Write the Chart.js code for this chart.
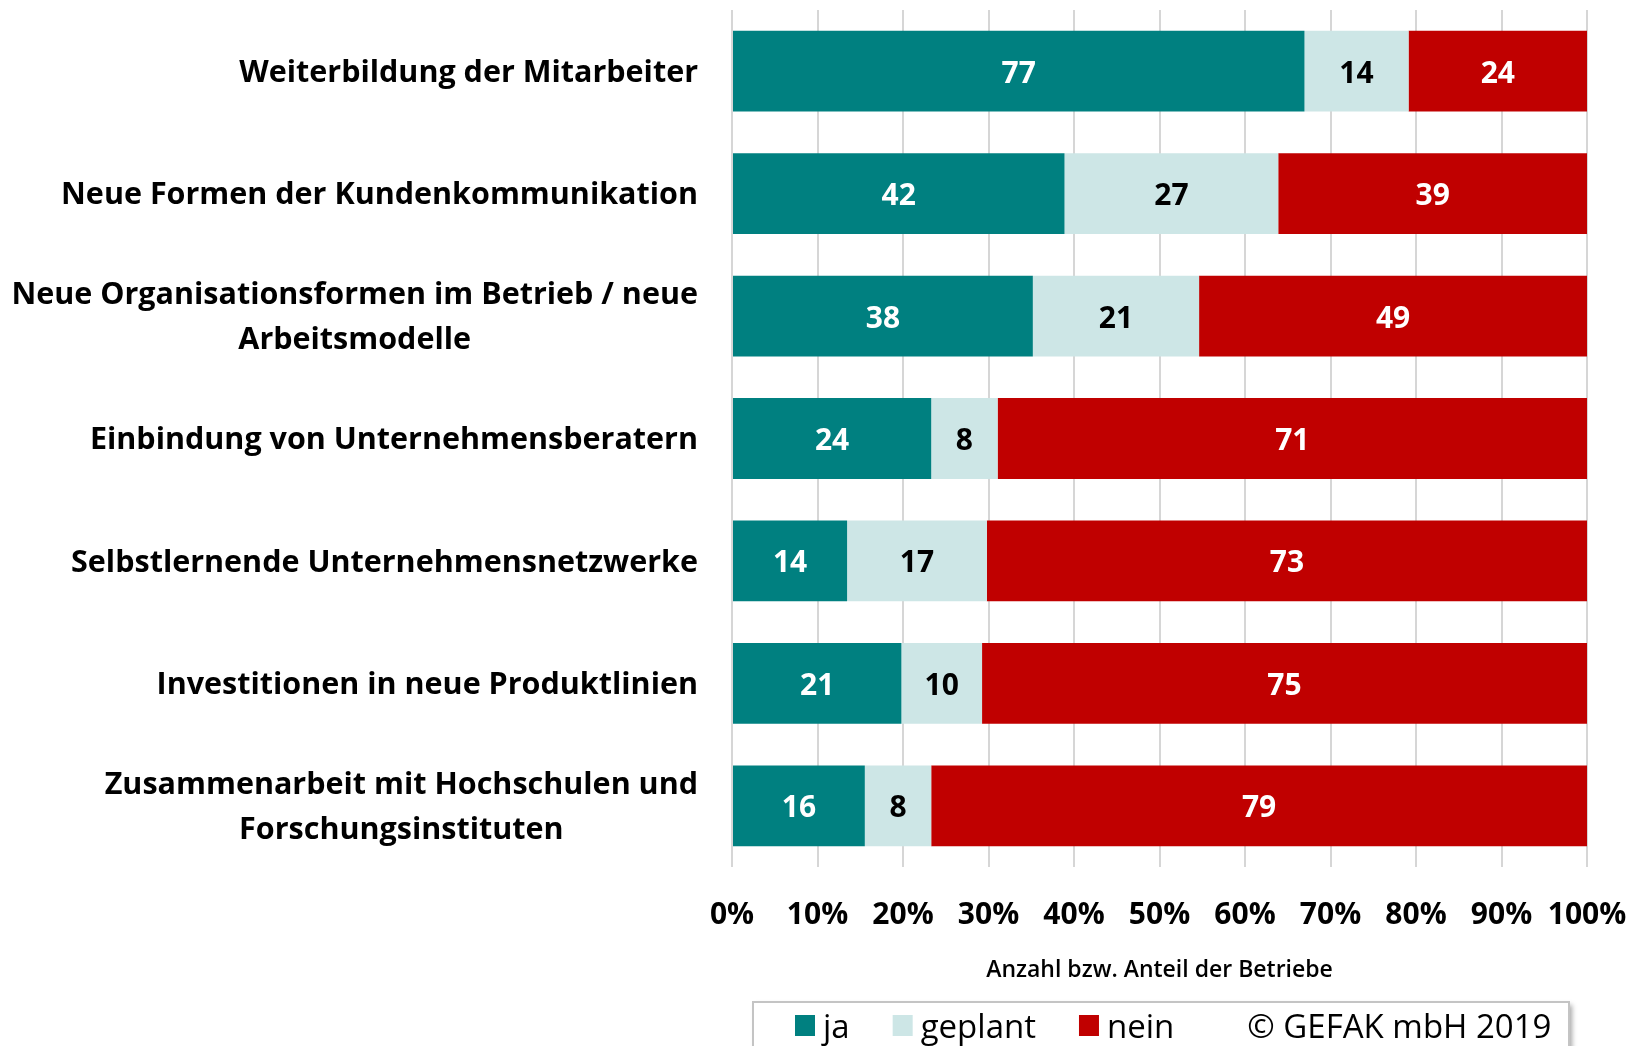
<!DOCTYPE html>
<html>
<head>
<meta charset="utf-8">
<script src="https://cdn.jsdelivr.net/npm/chart.js@4.4.1/dist/chart.umd.min.js"></script>
<style>
  html, body { margin: 0; padding: 0; background: #ffffff; }
  canvas { display: block; }
</style>
</head>
<body>
<canvas id="c" width="1629" height="1046"></canvas>
<script>
// ---------- DATA ----------
const categories = [
  ["Weiterbildung der Mitarbeiter"],
  ["Neue Formen der Kundenkommunikation"],
  ["Neue Organisationsformen im Betrieb / neue", "Arbeitsmodelle"],
  ["Einbindung von Unternehmensberatern"],
  ["Selbstlernende Unternehmensnetzwerke"],
  ["Investitionen in neue Produktlinien"],
  ["Zusammenarbeit mit Hochschulen und", "Forschungsinstituten"]
];
const seriesNames = ["ja", "geplant", "nein"];
const jaValues      = [77, 42, 38, 24, 14, 21, 16];
const geplantValues = [14, 27, 21,  8, 17, 10,  8];
const neinValues    = [24, 39, 49, 71, 73, 75, 79];
const xTickLabels = ["0%", "10%", "20%", "30%", "40%", "50%", "60%", "70%", "80%", "90%", "100%"];
const axisTitle = "Anzahl bzw. Anteil der Betriebe";
const copyrightText = "\u00A9 GEFAK mbH 2019";

// ---------- STYLE ----------
const COLORS = ["#008080", "#CDE6E6", "#C00000"];
const LABEL_COLORS = ["#ffffff", "#000000", "#ffffff"];
const FONT = "'Open Sans', 'Liberation Sans', sans-serif";

const seriesCounts = [jaValues, geplantValues, neinValues];
const totals = jaValues.map((v, i) => v + geplantValues[i] + neinValues[i]);
const toShare = arr => arr.map((v, i) => v / totals[i] * 100);

const datasets = seriesCounts.map((counts, k) => ({
  label: seriesNames[k],
  data: toShare(counts),
  counts: counts,
  backgroundColor: COLORS[k],
  borderWidth: 0,
  barPercentage: 0.66,
  categoryPercentage: 1.0
}));

// value labels inside bars
const valueLabelPlugin = {
  id: 'valueLabels',
  afterDatasetsDraw(chart) {
    const ctx = chart.ctx;
    ctx.save();
    ctx.font = "bold 30px " + FONT;
    ctx.textAlign = 'center';
    ctx.textBaseline = 'middle';
    chart.data.datasets.forEach((ds, k) => {
      const meta = chart.getDatasetMeta(k);
      ctx.fillStyle = LABEL_COLORS[k];
      meta.data.forEach((bar, i) => {
        const cx = (bar.x + bar.base) / 2;
        ctx.fillText(String(ds.counts[i]), cx, bar.y + 3);
      });
    });
    ctx.restore();
  }
};

// category labels (right-aligned blocks, centred lines)
const categoryLabelPlugin = {
  id: 'categoryLabels',
  afterDraw(chart) {
    const ctx = chart.ctx;
    const yScale = chart.scales.y;
    const rightEdge = chart.chartArea.left - 34;
    const lh = 45;
    ctx.save();
    ctx.font = "bold 30.5px " + FONT;
    ctx.fillStyle = '#000000';
    ctx.textAlign = 'center';
    ctx.textBaseline = 'middle';
    chart.data.labels.forEach((lines, i) => {
      const y = yScale.getPixelForValue(i);
      const w = Math.max(...lines.map(l => ctx.measureText(l).width));
      const cx = rightEdge - w / 2;
      lines.forEach((line, j) => {
        ctx.fillText(line, cx, y + (j - (lines.length - 1) / 2) * lh + 2);
      });
    });
    ctx.restore();
  }
};

// legend box with copyright
const legendBoxPlugin = {
  id: 'legendBox',
  afterDraw(chart) {
    const ctx = chart.ctx;
    const ca = chart.chartArea;
    const boxL = ca.left + 21, boxT = 1002, boxR = ca.right - 18, boxB = 1070;
    ctx.save();
    ctx.shadowColor = 'rgba(0,0,0,0.35)';
    ctx.shadowBlur = 5;
    ctx.shadowOffsetX = 3;
    ctx.shadowOffsetY = 3;
    ctx.fillStyle = '#ffffff';
    ctx.fillRect(boxL, boxT, boxR - boxL, boxB - boxT);
    ctx.restore();
    ctx.save();
    ctx.strokeStyle = '#c4c4c4';
    ctx.lineWidth = 2;
    ctx.strokeRect(boxL, boxT, boxR - boxL, boxB - boxT);
    ctx.font = "33px " + FONT;
    ctx.textBaseline = 'middle';
    ctx.textAlign = 'left';
    const cy = 1029;
    let x = boxL + 42;
    chart.data.datasets.forEach((ds, k) => {
      ctx.fillStyle = ds.backgroundColor;
      ctx.fillRect(x, 1015, 20, 21);
      x += 20 + 8;
      ctx.fillStyle = '#000000';
      ctx.fillText(ds.label, x, cy);
      x += ctx.measureText(ds.label).width + 43;
    });
    ctx.fillStyle = '#000000';
    ctx.fillText(copyrightText, x + 30, cy);
    ctx.restore();
  }
};

function build() {
  new Chart(document.getElementById('c'), {
    type: 'bar',
    data: { labels: categories, datasets: datasets },
    options: {
      indexAxis: 'y',
      responsive: false,
      animation: false,
      devicePixelRatio: 1,
      layout: { padding: { top: 10, right: 42, left: 0, bottom: 59 } },
      plugins: {
        legend: { display: false },
        tooltip: { enabled: false }
      },
      scales: {
        x: {
          stacked: true,
          min: 0,
          max: 100,
          ticks: {
            stepSize: 10,
            padding: 30,
            color: '#000000',
            font: { family: FONT, size: 30, weight: 'bold' },
            callback: (v, i) => xTickLabels[i]
          },
          grid: { color: '#d6d6d6', lineWidth: 2, drawTicks: false },
          border: { display: false },
          title: {
            display: true,
            text: axisTitle,
            color: '#000000',
            font: { family: FONT, size: 23, weight: 600 },
            padding: { top: 0, bottom: 3 }
          },
          afterFit(scale) {
            scale.height = 120;
            scale.paddingLeft = 0;
            scale.paddingRight = 0;
          }
        },
        y: {
          stacked: true,
          ticks: { display: false },
          grid: { display: false },
          border: { display: false },
          afterFit(scale) { scale.width = 732; }
        }
      }
    },
    plugins: [valueLabelPlugin, categoryLabelPlugin, legendBoxPlugin]
  });
}

const fontLoads = [
  "bold 30px 'Open Sans'", "600 23px 'Open Sans'", "33px 'Open Sans'"
].map(f => document.fonts ? document.fonts.load(f).catch(() => null) : null);
Promise.all(fontLoads).then(build, build);
</script>
</body>
</html>
